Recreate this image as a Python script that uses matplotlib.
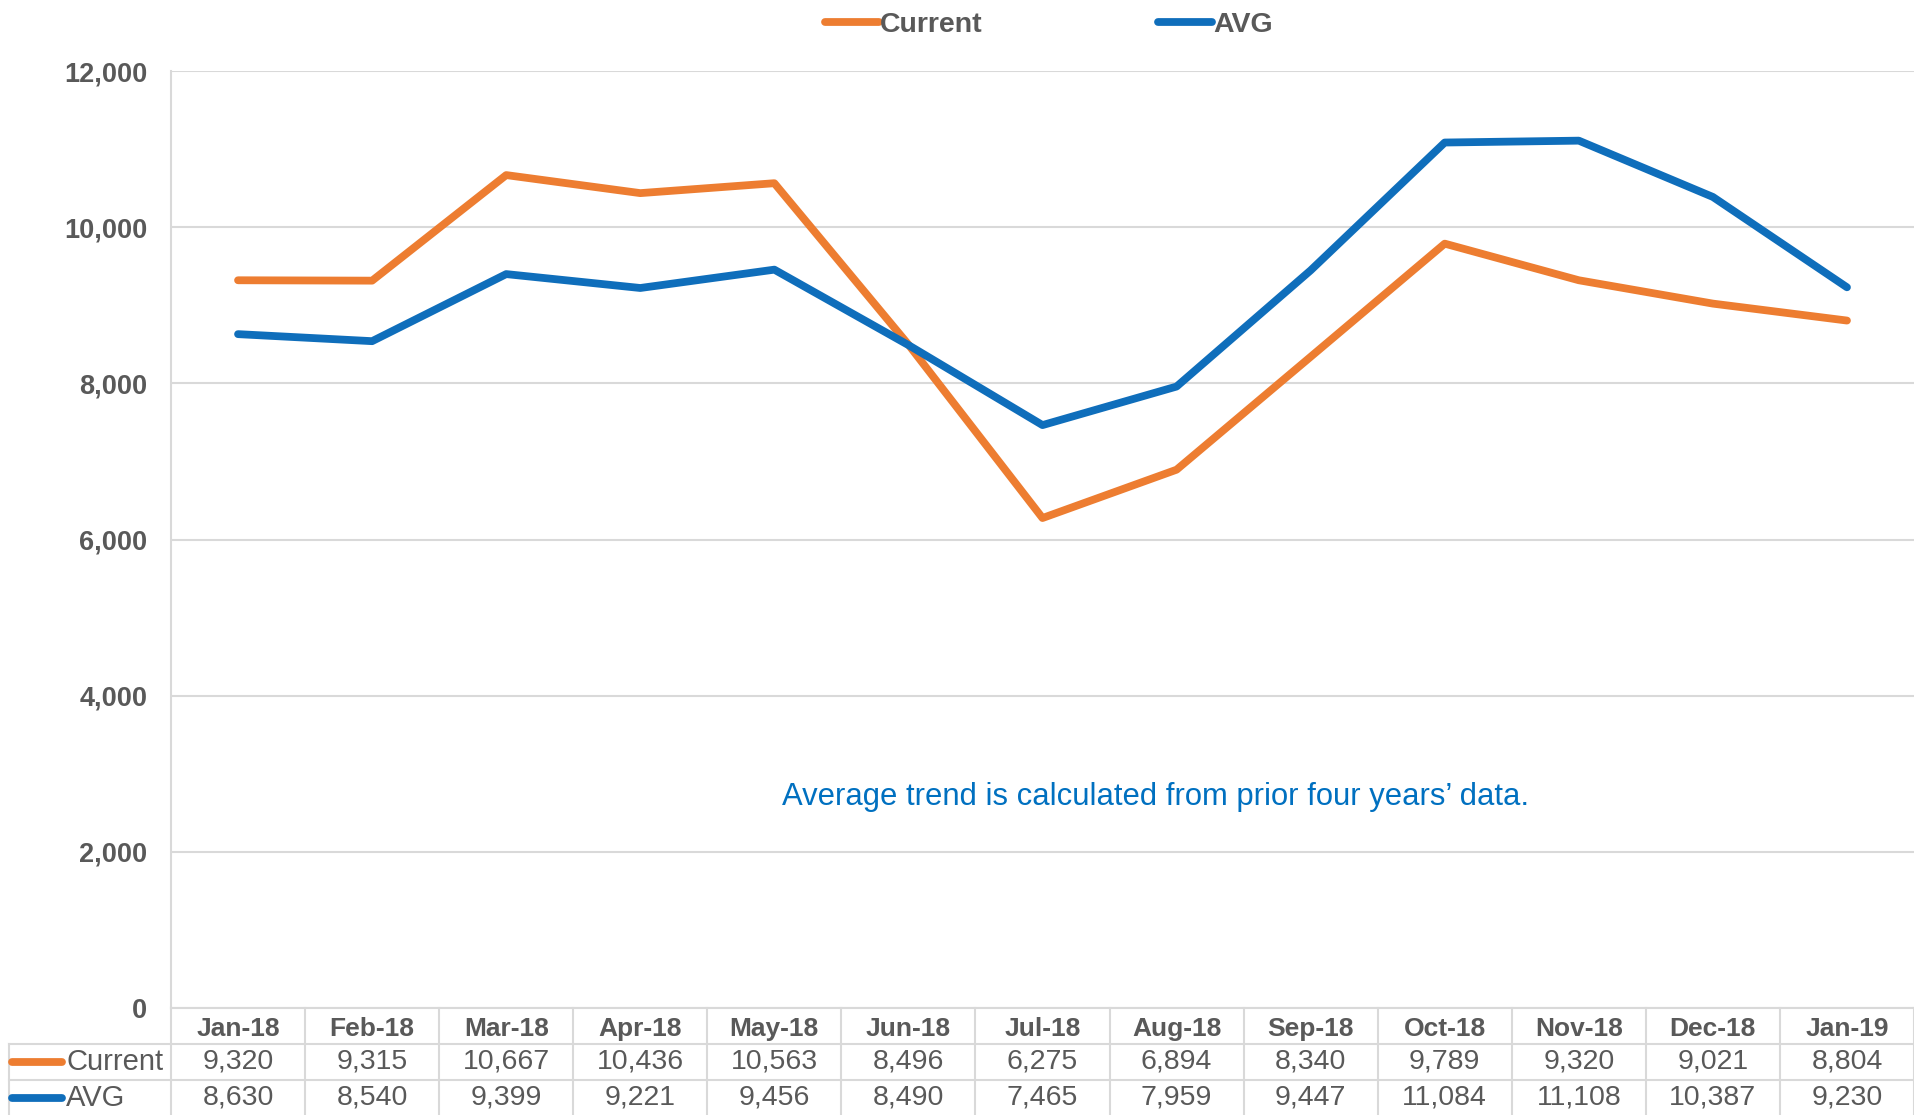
import matplotlib.pyplot as plt
import matplotlib.transforms as mtransforms
from matplotlib.lines import Line2D

plt.rcParams['font.family'] = ['Liberation Sans', 'DejaVu Sans']

# Monthly values, Jan-18 .. Jan-19
months = ["Jan-18", "Feb-18", "Mar-18", "Apr-18", "May-18", "Jun-18", "Jul-18",
          "Aug-18", "Sep-18", "Oct-18", "Nov-18", "Dec-18", "Jan-19"]
current = [9320, 9315, 10667, 10436, 10563, 8496, 6275, 6894, 8340, 9789, 9320, 9021, 8804]
avg = [8630, 8540, 9399, 9221, 9456, 8490, 7465, 7959, 9447, 11084, 11108, 10387, 9230]
y_ticks = [0, 2000, 4000, 6000, 8000, 10000, 12000]

orange = "#ED7D31"
blue = "#0F6EBB"
grey_txt = "#595959"
grid_col = "#D9D9D9"

W, H = 1914, 1115
fig = plt.figure(figsize=(W / 100, H / 100), dpi=100)
ax = fig.add_axes([171 / W, 1 - 1008 / H, (W - 171) / W, (1008 - 71) / H])

x = list(range(len(months)))
ax.plot(x, current, color=orange, lw=5.6, solid_capstyle='round', label="Current")
ax.plot(x, avg, color=blue, lw=5.6, solid_capstyle='round', label="AVG")

ax.set_xlim(-0.5, len(months) - 0.5)
ax.set_ylim(0, 12000)
ax.set_yticks(y_ticks)
ax.set_yticklabels([f"{v:,}" for v in y_ticks], fontsize=19.5, fontweight='bold', color=grey_txt)
ax.tick_params(axis='y', length=0, pad=17)
ax.set_xticks([])
ax.grid(axis='y', color=grid_col, lw=1.5)
ax.set_axisbelow(True)
for s in ['top', 'right', 'bottom']:
    ax.spines[s].set_visible(False)
ax.spines['left'].set_color(grid_col)
ax.spines['left'].set_linewidth(1.5)

ax.text(6.84, 2700, "Average trend is calculated from prior four years\u2019 data.",
        ha='center', va='center', fontsize=22.3, color="#0070C0")

# data table under the chart
tr = mtransforms.blended_transform_factory(ax.transData, fig.transFigure)
rows_y = [1 - 1008 / H, 1 - 1044 / H, 1 - 1080 / H, 0]
line_kw = dict(color=grid_col, lw=1.5, clip_on=False)
ax.add_line(Line2D([-0.5, 12.5], [rows_y[0]] * 2, transform=tr, **line_kw))
for yy in rows_y[1:3]:
    fig.add_artist(Line2D([9 / W, 1], [yy, yy], **line_kw))
for i in range(len(months) + 1):
    ax.add_line(Line2D([i - 0.5, i - 0.5], [rows_y[0], 0], transform=tr, **line_kw))
fig.add_artist(Line2D([9 / W, 9 / W], [rows_y[1], 0], **line_kw))

mid = [(rows_y[k] + rows_y[k + 1]) / 2 for k in range(3)]
for i, m in enumerate(months):
    ax.text(i, mid[0] - 0.003, m, transform=tr, ha='center', va='center', fontsize=19,
            fontweight='bold', color=grey_txt)
    ax.text(i, mid[1], f"{current[i]:,}", transform=tr, ha='center', va='center',
            fontsize=20.5, color=grey_txt)
    ax.text(i, mid[2], f"{avg[i]:,}", transform=tr, ha='center', va='center',
            fontsize=20.5, color=grey_txt)

for k, (name, col) in enumerate([("Current", orange), ("AVG", blue)]):
    yy = mid[k + 1]
    fig.add_artist(Line2D([12 / W, 62 / W], [yy, yy], color=col, lw=5.6,
                          solid_capstyle='round'))
    fig.text(66 / W, yy, name, ha='left', va='center', fontsize=21, color=grey_txt)

leg = fig.legend(loc='center', bbox_to_anchor=(1049 / W, 1 - 25 / H), ncol=2,
                 frameon=False, fontsize=20.5, handlelength=1.9, handletextpad=0.05,
                 columnspacing=6.15)
for t in leg.get_texts():
    t.set_color(grey_txt)
    t.set_fontweight('bold')

fig.savefig("out.png", dpi=100)
